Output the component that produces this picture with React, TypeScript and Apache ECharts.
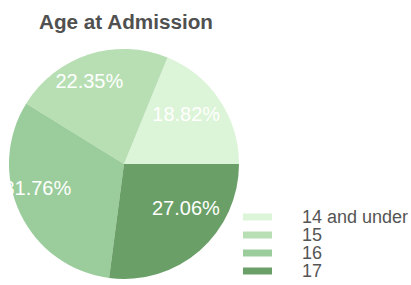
import React, { useEffect, useRef } from "react";
import * as echarts from "echarts";

const categories = ["14 and under", "15", "16", "17"];
const percents = [18.82, 22.35, 31.76, 27.06];
const colors = ["#dcf4d7", "#b8dfb4", "#9acd9b", "#6a9f67"];
const labelShift: [number, number][] = [
  [12, -16],
  [-16, -25],
  [-32, -2],
  [22, -1],
];

export default function App() {
  const ref = useRef<HTMLDivElement>(null);
  useEffect(() => {
    document.body.style.margin = "0";
    const chart = echarts.init(ref.current!, undefined, { renderer: "svg" });
    chart.setOption({
      animation: false,
      backgroundColor: "#ffffff",
      title: {
        text: "Age at Admission",
        left: 39,
        top: 11,
        padding: 0,
        textStyle: {
          fontFamily: "Liberation Sans",
          fontSize: 20.7,
          fontWeight: "bold",
          color: "#505050",
        },
      },
      legend: {
        orient: "vertical",
        left: 243,
        top: 208,
        padding: 0,
        itemWidth: 29,
        itemHeight: 7,
        itemGap: 0,
        icon: "rect",
        data: categories,
        textStyle: {
          fontFamily: "Liberation Sans",
          fontSize: 18,
          lineHeight: 18,
          color: "#555555",
          padding: [0, 0, 0, 25],
        },
      },
      series: [
        {
          type: "pie",
          center: [124, 164],
          radius: 115,
          startAngle: 0,
          clockwise: false,
          avoidLabelOverlap: false,
          itemStyle: { borderWidth: 0 },
          label: {
            show: true,
            position: "inside",
            color: "#ffffff",
            fontFamily: "Liberation Sans",
            fontSize: 20,
            formatter: (p: any) => p.value.toFixed(2) + "%",
          },
          labelLine: { show: false },
          labelLayout: (p: any) => ({
            dx: labelShift[p.dataIndex][0],
            dy: labelShift[p.dataIndex][1],
          }),
          emphasis: { disabled: true },
          data: categories.map((c, i) => ({
            name: c,
            value: percents[i],
            itemStyle: { color: colors[i] },
          })),
        },
      ],
    });
    return () => chart.dispose();
  }, []);
  return <div ref={ref} style={{ width: 411, height: 285 }} />;
}
